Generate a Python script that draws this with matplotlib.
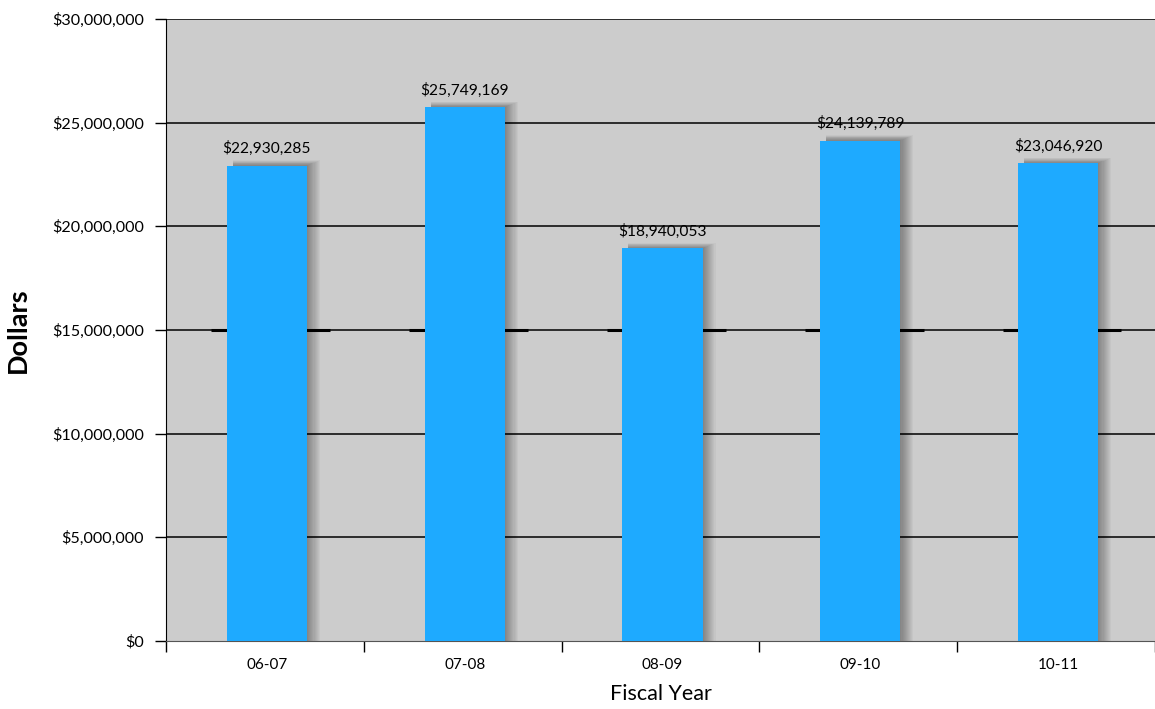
import matplotlib
matplotlib.use("Agg")
import matplotlib.pyplot as plt
from matplotlib.ticker import FuncFormatter, FixedLocator
import numpy as np

categories = ["06-07", "07-08", "08-09", "09-10", "10-11"]
values = [22930285, 25749169, 18940053, 24139789, 23046920]
yticks = [0, 5000000, 10000000, 15000000, 20000000, 25000000, 30000000]

plt.rcParams['font.family'] = ['Lato', 'DejaVu Sans']

fig = plt.figure(figsize=(11.55, 7.09), dpi=100)
ax = fig.add_axes([166/1155, (709-641)/709, (1155-166)/1155, (641-19)/709])
ax.set_facecolor("#cccccc")

x = np.arange(len(categories)) + 0.01
bw = 0.405

# grid
for t in yticks[1:]:
    ax.axhline(t, color="black", lw=1.1, zorder=1)
# thick dashes at 15M around bars
for xi in x:
    ax.hlines(15000000, xi - 0.28, xi + 0.32, color="black", lw=2.2, zorder=1.5)

# soft shadows (to the right, faint on top)
vals = np.array(values)
n = 12
for k in range(n):
    grow = 0.0055 * (k + 1)
    ax.bar(x - bw / 2 + 0.03, vals + 250000 * (k + 1) / n, width=bw - 0.03 + grow,
           align="edge", color="black", alpha=0.03, zorder=2, linewidth=0)
ax.bar(x, values, width=bw, color="#1eaaff", zorder=3, linewidth=0)

for xi, v in zip(x, values):
    ax.text(xi, v + 450000, "${:,}".format(v), ha="center", va="bottom", fontsize=11.2, zorder=4)

ax.set_xlim(-0.5, 4.5)
ax.set_ylim(0, 30000000)
ax.set_yticks(yticks)
ax.yaxis.set_major_formatter(FuncFormatter(lambda v, p: "${:,.0f}".format(v)))
ax.xaxis.set_major_locator(FixedLocator(np.arange(-0.5, 5, 1.0)))
ax.xaxis.set_minor_locator(FixedLocator(x))
ax.set_xticklabels([])
ax.set_xticklabels(categories, minor=True)
ax.tick_params(axis="x", which="major", length=8, width=1, direction="out")
ax.tick_params(axis="x", which="minor", length=0, labelsize=11, pad=12)
ax.tick_params(axis="y", length=8, width=1, labelsize=11.6, pad=8)

for s in ["right", "top"]:
    ax.spines[s].set_visible(False)
ax.spines["left"].set_color("black")
ax.spines["bottom"].set_color("#555555")

ax.set_xlabel("Fiscal Year", fontsize=15.5, labelpad=9)
ax.set_ylabel("Dollars", fontsize=19.5, fontweight="bold", labelpad=16)

fig.savefig("out.png", dpi=100)
